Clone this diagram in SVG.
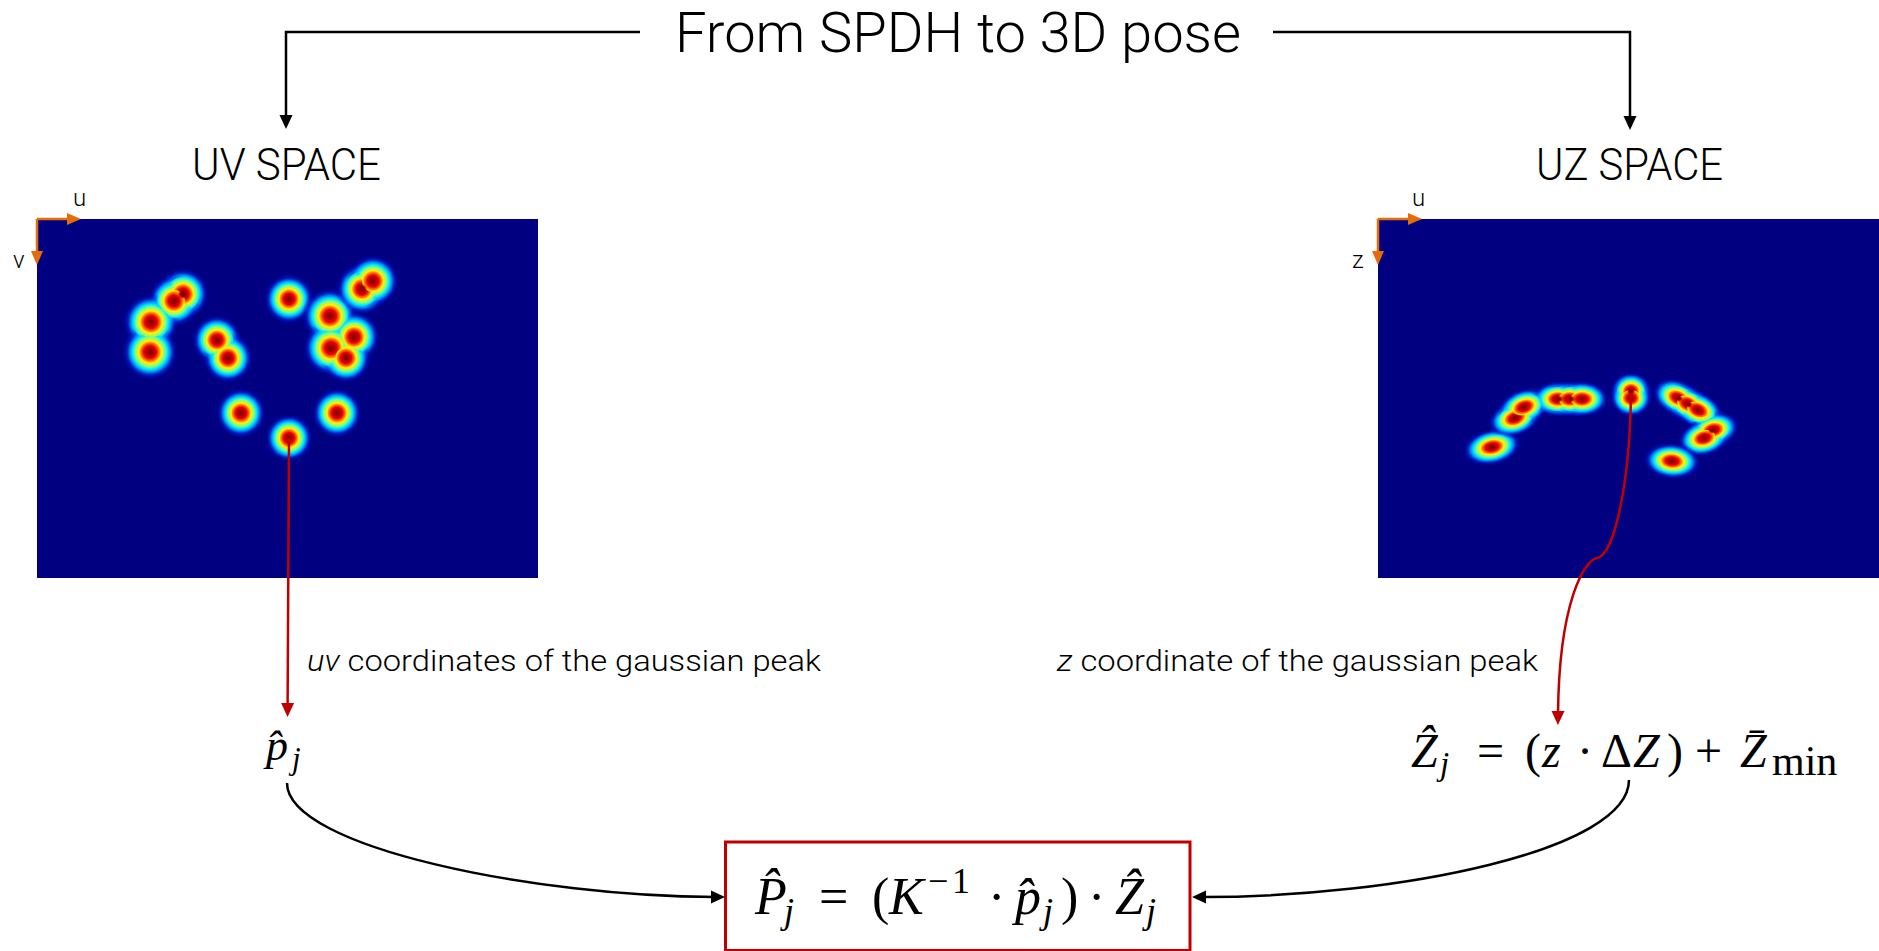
<svg xmlns="http://www.w3.org/2000/svg" xmlns:xlink="http://www.w3.org/1999/xlink" width="1879" height="951" viewBox="0 0 1879 951">
<style>
.t{font-family:Roboto,"Liberation Sans",sans-serif;font-weight:300;fill:#000}
.m{font-family:"Liberation Serif","Times New Roman",serif;fill:#000}
.i{font-style:italic}
.blk{fill:none;stroke:#000;stroke-width:2.5}
.red{fill:none;stroke:#C00000;stroke-width:2.5}
.org{fill:none;stroke:#E46C0A;stroke-width:2.5}
</style>
<defs>
<marker id="ab" viewBox="0 0 14 14" refX="4" refY="7" markerWidth="14" markerHeight="14" markerUnits="userSpaceOnUse" orient="auto"><path d="M0,0.5 L14,7 L0,13.5 z" fill="#000"/></marker>
<marker id="ar" viewBox="0 0 14 14" refX="4" refY="7" markerWidth="14" markerHeight="14" markerUnits="userSpaceOnUse" orient="auto"><path d="M0,0.5 L14,7 L0,13.5 z" fill="#C00000"/></marker>
<marker id="ao" viewBox="0 0 14 12" refX="4" refY="6" markerWidth="14" markerHeight="12" markerUnits="userSpaceOnUse" orient="auto"><path d="M0,0 L14,6 L0,12 z" fill="#E46C0A"/></marker>
<radialGradient id="gO">
<stop offset="0" stop-color="#7a0000"/>
<stop offset="0.1" stop-color="#a80000"/>
<stop offset="0.22" stop-color="#f00000"/>
<stop offset="0.32" stop-color="#ff8000"/>
<stop offset="0.4" stop-color="#ffee00"/>
<stop offset="0.5" stop-color="#80ff80"/>
<stop offset="0.6" stop-color="#00e8ff"/>
<stop offset="0.7" stop-color="#00a0ff" stop-opacity="0.85"/>
<stop offset="0.8" stop-color="#0030f0" stop-opacity="0.55"/>
<stop offset="0.9" stop-color="#0010c0" stop-opacity="0.25"/>
<stop offset="1" stop-color="#000080" stop-opacity="0"/>
</radialGradient>
<radialGradient id="gM">
<stop offset="0" stop-color="#7a0000"/>
<stop offset="0.1" stop-color="#a80000"/>
<stop offset="0.22" stop-color="#f00000"/>
<stop offset="0.32" stop-color="#ff8000"/>
<stop offset="0.4" stop-color="#ffee00"/>
<stop offset="0.5" stop-color="#80ff80"/>
<stop offset="0.6" stop-color="#00e8ff"/>
<stop offset="0.66" stop-color="#00c0ff" stop-opacity="0"/>
</radialGradient>
<radialGradient id="gY">
<stop offset="0" stop-color="#7a0000"/>
<stop offset="0.1" stop-color="#a80000"/>
<stop offset="0.22" stop-color="#f00000"/>
<stop offset="0.32" stop-color="#ff8000"/>
<stop offset="0.4" stop-color="#ffee00"/>
<stop offset="0.5" stop-color="#80ff80"/>
<stop offset="0.55" stop-color="#80ff80" stop-opacity="0"/>
</radialGradient>
<radialGradient id="gI">
<stop offset="0" stop-color="#7a0000"/>
<stop offset="0.1" stop-color="#a80000"/>
<stop offset="0.22" stop-color="#f00000"/>
<stop offset="0.32" stop-color="#ff8000"/>
<stop offset="0.38" stop-color="#ffee00"/>
<stop offset="0.43" stop-color="#ffee00" stop-opacity="0"/>
</radialGradient>
<radialGradient id="gC">
<stop offset="0" stop-color="#780000"/>
<stop offset="0.1" stop-color="#a00000"/>
<stop offset="0.2" stop-color="#e00000" stop-opacity="0"/>
</radialGradient>
<clipPath id="cUV"><rect x="37" y="219" width="501" height="359"/></clipPath>
<clipPath id="cUZ"><rect x="1378" y="219" width="501" height="359"/></clipPath>
<g id="uvb">
<circle cx="183" cy="294" r="27"/>
<circle cx="174" cy="301" r="27"/>
<circle cx="151" cy="322" r="29"/>
<circle cx="150" cy="352" r="29"/>
<circle cx="217" cy="340" r="26"/>
<circle cx="228" cy="358" r="26"/>
<circle cx="289" cy="299" r="26"/>
<circle cx="330" cy="316" r="29"/>
<circle cx="354" cy="337" r="27"/>
<circle cx="331" cy="348" r="29"/>
<circle cx="346" cy="358" r="26"/>
<circle cx="362" cy="289" r="27"/>
<circle cx="373" cy="281" r="27"/>
<circle cx="241" cy="413" r="26"/>
<circle cx="337" cy="413" r="26"/>
<circle cx="289" cy="438" r="25"/>
</g>
<g id="uzb">
<ellipse cx="1492" cy="447" rx="31" ry="19" transform="rotate(-12 1492 447)"/>
<ellipse cx="1515" cy="418" rx="29" ry="19" transform="rotate(-20 1515 418)"/>
<ellipse cx="1524" cy="407" rx="29" ry="19" transform="rotate(-20 1524 407)"/>
<ellipse cx="1558" cy="399" rx="28" ry="19"/>
<ellipse cx="1570" cy="399" rx="28" ry="19"/>
<ellipse cx="1582" cy="399" rx="28" ry="19"/>
<ellipse cx="1631" cy="391" rx="22" ry="20"/>
<ellipse cx="1631" cy="398" rx="22" ry="20"/>
<ellipse cx="1678" cy="398" rx="28" ry="19" transform="rotate(25 1678 398)"/>
<ellipse cx="1688" cy="404" rx="28" ry="19" transform="rotate(25 1688 404)"/>
<ellipse cx="1698" cy="410" rx="28" ry="19" transform="rotate(25 1698 410)"/>
<ellipse cx="1713" cy="430" rx="28" ry="19" transform="rotate(-15 1713 430)"/>
<ellipse cx="1704" cy="438" rx="28" ry="19" transform="rotate(-15 1704 438)"/>
<ellipse cx="1672" cy="461" rx="30" ry="19" transform="rotate(5 1672 461)"/>
</g>
</defs>
<rect width="1879" height="951" fill="#fff"/>

<g id="title"><text class="t" x="675" y="52" font-size="56" textLength="566" lengthAdjust="spacingAndGlyphs">From SPDH to 3D pose</text></g>

<g id="uv-space">
<text class="t" x="192" y="180" font-size="44" textLength="189" lengthAdjust="spacingAndGlyphs">UV SPACE</text>
<rect x="37" y="219" width="501" height="359" fill="#000080"/>
<g clip-path="url(#cUV)">
<use xlink:href="#uvb" href="#uvb" fill="url(#gO)"/>
<use xlink:href="#uvb" href="#uvb" fill="url(#gM)"/>
<use xlink:href="#uvb" href="#uvb" fill="url(#gY)"/>
<use xlink:href="#uvb" href="#uvb" fill="url(#gI)"/>
<use xlink:href="#uvb" href="#uvb" fill="url(#gC)"/>
</g>
<path class="org" d="M37,219 H71" marker-end="url(#ao)"/>
<path class="org" d="M37,219 V255" marker-end="url(#ao)"/>
<text class="t" x="73" y="206" font-size="24" font-weight="400">u</text>
<text class="t" x="13" y="268" font-size="24" font-weight="400">v</text>
</g>

<g id="uz-space">
<text class="t" x="1536" y="180" font-size="44" textLength="187" lengthAdjust="spacingAndGlyphs">UZ SPACE</text>
<rect x="1378" y="219" width="501" height="359" fill="#000080"/>
<g clip-path="url(#cUZ)">
<use xlink:href="#uzb" href="#uzb" fill="url(#gO)"/>
<use xlink:href="#uzb" href="#uzb" fill="url(#gM)"/>
<use xlink:href="#uzb" href="#uzb" fill="url(#gY)"/>
<use xlink:href="#uzb" href="#uzb" fill="url(#gI)"/>
<use xlink:href="#uzb" href="#uzb" fill="url(#gC)"/>
</g>
<path class="org" d="M1378,219 H1412" marker-end="url(#ao)"/>
<path class="org" d="M1378,219 V255" marker-end="url(#ao)"/>
<text class="t" x="1412" y="206" font-size="24" font-weight="400">u</text>
<text class="t" x="1352" y="268" font-size="24" font-weight="400">z</text>
</g>

<g id="label-uv"><text class="t" x="307" y="671" font-size="30" textLength="514" lengthAdjust="spacingAndGlyphs"><tspan font-style="italic">uv</tspan> coordinates of the gaussian peak</text></g>
<g id="label-z"><text class="t" x="1057" y="671" font-size="30" textLength="481" lengthAdjust="spacingAndGlyphs"><tspan font-style="italic">z</tspan> coordinate of the gaussian peak</text></g>

<g id="p-hat">
<text class="m" font-size="44"><tspan class="i" x="266" y="760">p̂</tspan><tspan class="i" x="292" y="769" font-size="31">j</tspan></text>
</g>

<g id="z-hat">
<text class="m" font-size="48"><tspan class="i" x="1411" y="767">Ẑ</tspan><tspan class="i" x="1440" y="775" font-size="33">j</tspan><tspan x="1477" y="767">=</tspan><tspan x="1525" y="767">(</tspan><tspan class="i" x="1542" y="767">z</tspan><tspan x="1577" y="767">·</tspan><tspan x="1601" y="767">Δ</tspan><tspan class="i" x="1633" y="767">Z</tspan><tspan x="1667" y="767">)</tspan><tspan x="1695" y="767">+</tspan><tspan class="i" x="1740" y="767">Z̄</tspan><tspan x="1772" y="775" font-size="42">min</tspan></text>
</g>

<g id="result">
<rect x="725.5" y="842" width="464.5" height="108.5" fill="#fff" stroke="#C00000" stroke-width="3"/>
<text class="m" font-size="52"><tspan class="i" x="755" y="914">P̂</tspan><tspan class="i" x="784" y="923" font-size="36">j</tspan><tspan x="819" y="914">=</tspan><tspan x="872" y="914">(</tspan><tspan class="i" x="889" y="914">K</tspan><tspan x="928" y="893" font-size="36">−</tspan><tspan x="952" y="893" font-size="36">1</tspan><tspan x="988" y="914">·</tspan><tspan class="i" x="1015" y="914">p̂</tspan><tspan class="i" x="1043" y="923" font-size="36">j</tspan><tspan x="1061" y="914">)</tspan><tspan x="1088" y="914">·</tspan><tspan class="i" x="1115" y="914">Ẑ</tspan><tspan class="i" x="1146" y="923" font-size="36">j</tspan></text>
</g>

<g id="connectors">
<path class="blk" d="M640,32 H286 V119" marker-end="url(#ab)"/>
<path class="blk" d="M1273,32 H1630 V120" marker-end="url(#ab)"/>
<path class="red" d="M289,438 L287.6,707" marker-end="url(#ar)"/>
<path class="red" d="M1631,393 C1630,480 1615,555 1597,558 C1585,560 1559,600 1558,715" marker-end="url(#ar)"/>
<path class="blk" d="M287,783 C287,848 540,897 715,897" marker-end="url(#ab)"/>
<path class="blk" d="M1629,780 C1629,850 1400,897 1202,897" marker-end="url(#ab)"/>
</g>
</svg>
